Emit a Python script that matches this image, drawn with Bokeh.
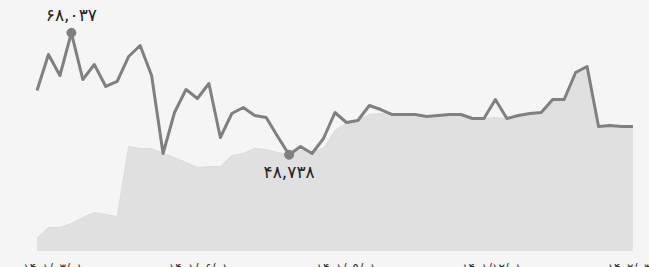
import numpy as np
from bokeh.plotting import figure
from bokeh.models import ColumnDataSource, GlobalInlineStyleSheet, Range1d
from bokeh.core.properties import value
from bokeh.embed import file_html
from bokeh.resources import INLINE

# ---- data -------------------------------------------------------------
weeks = list(range(53))

price = [58910, 64605, 61283, 68037, 60650, 63023, 59543, 60334, 64289, 66029,
         61283, 48944, 55430, 59068, 57645, 60018, 51475, 55272, 56221, 54955,
         54639, 51633, 48738, 50051, 48944, 51317, 55430, 53848, 54164, 56537,
         55904, 55113, 55113, 55113, 54797, 54955, 55113, 55113, 54481, 54481,
         57486, 54481, 54955, 55272, 55430, 57486, 57486, 61758, 62707, 53215,
         53373, 53215, 53215]

benchmark = [35497, 37237, 37237, 37870, 38819, 39610, 39294, 38977, 50051, 49735,
             49735, 48944, 48311, 47520, 46729, 46887, 46887, 48627, 48944, 49735,
             49576, 49102, 48785, 49418, 49260, 49735, 52582, 53690, 54164, 55113,
             55272, 55113, 55113, 55113, 54797, 54955, 55113, 55113, 54481, 54481,
             54639, 54481, 54955, 55272, 55430, 57486, 57486, 61758, 62707, 53215,
             53373, 53215, 53215]

tick_pos = [1.4, 14.1, 27.0, 39.7, 52.4]
tick_labels = ["۱۴۰۱/۰۳/۰۱", "۱۴۰۱/۰۶/۰۱", "۱۴۰۱/۰۹/۰۱", "۱۴۰۱/۱۲/۰۱", "۱۴۰۲/۰۳/۰۱"]

baseline = 33500
y_lo, y_hi = 30909, 73148
x_lo, x_hi = -3.185, 53.447

# ---- helpers ----------------------------------------------------------
fa_digits = str.maketrans("0123456789", "۰۱۲۳۴۵۶۷۸۹")


def fa(n):
    return f"{n:,}".translate(fa_digits)


BG = "#f5f5f5"

p = figure(width=649, height=267, output_backend="svg", toolbar_location=None,
           x_range=Range1d(x_lo, x_hi), y_range=Range1d(y_lo, y_hi),
           min_border=0, background_fill_color=BG, border_fill_color=BG)
p.outline_line_color = None
p.xaxis.visible = False
p.yaxis.visible = False
p.xgrid.visible = False
p.ygrid.visible = False
p.stylesheets = [GlobalInlineStyleSheet(css="html, body { background-color: #f5f5f5; }")]

src = ColumnDataSource(dict(x=weeks, price=price, bench=benchmark,
                            base=[baseline] * len(weeks)))

p.varea(x="x", y1="base", y2="bench", source=src, fill_color="#e0e0e0")
p.line(x="x", y="bench", source=src, line_color="#dadada", line_width=1)
p.line(x="x", y="price", source=src, line_color="#808080", line_width=3,
       line_join="round")

imax = int(np.argmax(price))
imin = int(np.argmin(price))
p.scatter(x=[weeks[imax], weeks[imin]], y=[price[imax], price[imin]],
          size=9, fill_color="#808080", line_color="#808080")

p.text(x=[weeks[imax]], y=[price[imax]], text=[fa(price[imax])],
       text_font=value("DejaVu Sans"), text_font_size="17px",
       text_align="center", text_baseline="alphabetic", y_offset=-18,
       text_color="#222222")
p.text(x=[weeks[imin]], y=[price[imin]], text=[fa(price[imin])],
       text_font=value("DejaVu Sans"), text_font_size="17px",
       text_align="center", text_baseline="alphabetic", y_offset=17,
       text_color="#222222")

p.text(x=tick_pos, y=[y_lo] * len(tick_pos), text=tick_labels,
       text_font=value("DejaVu Sans"), text_font_size="12px",
       text_align="center", text_baseline="top", y_offset=-7,
       text_color="#333333")

open("out.html", "w").write(file_html(p, INLINE))
